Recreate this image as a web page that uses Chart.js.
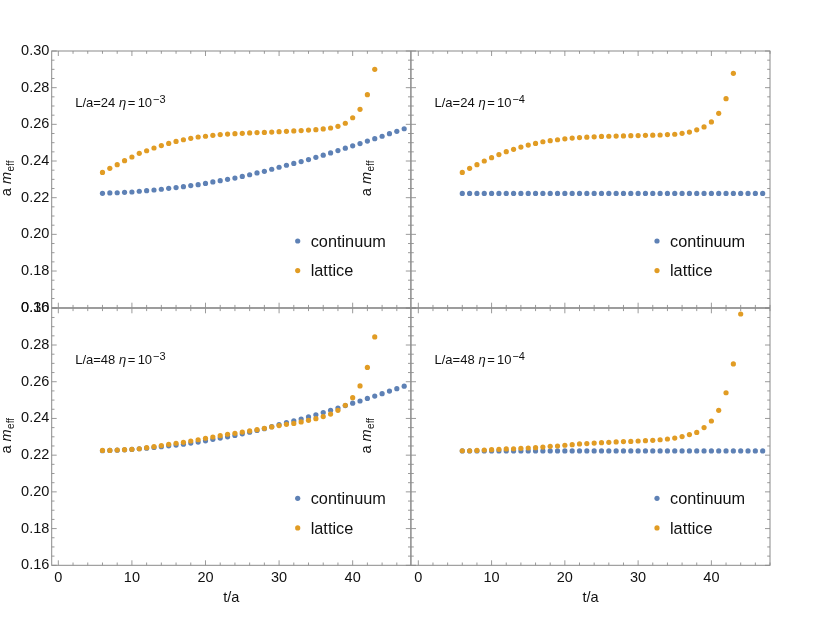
<!DOCTYPE html>
<html>
<head>
<meta charset="utf-8">
<script src="https://cdn.jsdelivr.net/npm/chart.js@4.4.1/dist/chart.umd.min.js"></script>
<style>
html,body{margin:0;padding:0;background:#fff;}
#wrap{position:relative;width:822px;height:617px;background:#fff;}
canvas{position:absolute;left:0;top:0;}
</style>
</head>
<body>
<div id="wrap">
<canvas id="cTL" width="822" height="617"></canvas>
<canvas id="cTR" width="822" height="617"></canvas>
<canvas id="cBL" width="822" height="617"></canvas>
<canvas id="cBR" width="822" height="617"></canvas>
</div>
<script>
// ---------------- data ----------------
const tCont = [6,7,8,9,10,11,12,13,14,15,16,17,18,19,20,21,22,23,24,25,26,27,28,29,30,31,32,33,34,35,36,37,38,39,40,41,42,43,44,45,46,47];
const tLat43 = [6,7,8,9,10,11,12,13,14,15,16,17,18,19,20,21,22,23,24,25,26,27,28,29,30,31,32,33,34,35,36,37,38,39,40,41,42,43];
const tLat44 = [6,7,8,9,10,11,12,13,14,15,16,17,18,19,20,21,22,23,24,25,26,27,28,29,30,31,32,33,34,35,36,37,38,39,40,41,42,43,44];

// continuum, eta = 1e-3 (same for L/a=24 and L/a=48)
const contEta3 = [0.2224,0.2226,0.2227,0.2229,0.2231,0.2235,0.2238,0.2242,0.2246,0.2251,0.2255,0.2260,0.2266,0.2271,0.2278,0.2286,0.2293,0.2300,0.2307,0.2316,0.2325,0.2335,0.2344,0.2355,0.2366,0.2377,0.2387,0.2397,0.2408,0.2420,0.2432,0.2444,0.2457,0.2470,0.2483,0.2495,0.2509,0.2522,0.2535,0.2549,0.2562,0.2576];
// continuum, eta = 1e-4
const contEta4 = [0.2223,0.2223,0.2223,0.2223,0.2223,0.2223,0.2223,0.2223,0.2223,0.2223,0.2223,0.2223,0.2223,0.2223,0.2223,0.2223,0.2223,0.2223,0.2223,0.2223,0.2223,0.2223,0.2223,0.2223,0.2223,0.2223,0.2223,0.2223,0.2223,0.2223,0.2223,0.2223,0.2223,0.2223,0.2223,0.2223,0.2223,0.2223,0.2223,0.2223,0.2223,0.2223];
// lattice
const latL24Eta3 = [0.2338,0.2360,0.2380,0.2402,0.2422,0.2442,0.2456,0.2471,0.2484,0.2496,0.2507,0.2516,0.2524,0.2531,0.2535,0.2540,0.2544,0.2547,0.2549,0.2551,0.2553,0.2555,0.2556,0.2558,0.2560,0.2562,0.2564,0.2566,0.2569,0.2571,0.2575,0.2580,0.2589,0.2606,0.2636,0.2682,0.2762,0.2900];
const latL24Eta4 = [0.2338,0.2360,0.2380,0.2400,0.2418,0.2435,0.2451,0.2464,0.2476,0.2487,0.2496,0.2505,0.2511,0.2516,0.2521,0.2525,0.2528,0.2530,0.2532,0.2534,0.2535,0.2536,0.2537,0.2538,0.2539,0.2540,0.2541,0.2542,0.2544,0.2546,0.2551,0.2558,0.2570,0.2586,0.2613,0.2660,0.2740,0.2878];
const latL48Eta3 = [0.2226,0.2226,0.2228,0.2230,0.2232,0.2235,0.2241,0.2246,0.2252,0.2259,0.2265,0.2270,0.2277,0.2284,0.2292,0.2299,0.2306,0.2314,0.2319,0.2326,0.2332,0.2339,0.2346,0.2354,0.2361,0.2368,0.2373,0.2381,0.2390,0.2399,0.2410,0.2424,0.2444,0.2472,0.2513,0.2577,0.2678,0.2844];
const latL48Eta4 = [0.2224,0.2224,0.2226,0.2228,0.2230,0.2232,0.2234,0.2235,0.2237,0.2239,0.2241,0.2244,0.2248,0.2250,0.2254,0.2257,0.2261,0.2263,0.2266,0.2268,0.2270,0.2272,0.2274,0.2275,0.2277,0.2279,0.2281,0.2284,0.2288,0.2293,0.2301,0.2312,0.2324,0.2350,0.2386,0.2444,0.2540,0.2697,0.2969];

const yTickVals = [0.16,0.18,0.20,0.22,0.24,0.26,0.28,0.30];
const xTickVals = [0,10,20,30,40];
const legendLabels = ['continuum','lattice'];
const panelLabels = [
  {L:'L/a=24', e:'\u22123'},
  {L:'L/a=24', e:'\u22124'},
  {L:'L/a=48', e:'\u22123'},
  {L:'L/a=48', e:'\u22124'}
];

// ---------------- style ----------------
const FONT = '"Liberation Sans", Arial, Helvetica, sans-serif';
const BLUE = '#5E81B5';
const ORANGE = '#E19C24';
const TXT = '#111111';

function framePlugin(o) {
  return {
    id: 'frame_' + o.id,
    beforeDatasetsDraw(chart) {
      const {ctx, chartArea: a, scales: {x, y}} = chart;
      ctx.save();
      ctx.lineWidth = 1;
      ctx.strokeStyle = '#9a9a9a';
      ctx.beginPath();
      for (let v = 0; v <= x.max; v += 2) {
        const px = x.getPixelForValue(v);
        const len = (v % 10 === 0) ? 5 : 2.8;
        ctx.moveTo(px, a.bottom); ctx.lineTo(px, a.bottom - len);
        ctx.moveTo(px, a.top); ctx.lineTo(px, a.top + len);
      }
      for (let k = 0; k <= 28; k++) {
        const v = 0.16 + k * 0.005;
        const py = y.getPixelForValue(v);
        const len = (k % 4 === 0) ? 5 : 2.8;
        ctx.moveTo(a.left, py); ctx.lineTo(a.left + len, py);
        ctx.moveTo(a.right, py); ctx.lineTo(a.right - len, py);
      }
      ctx.stroke();
      ctx.strokeStyle = '#8a8a8a';
      ctx.strokeRect(a.left, a.top, a.right - a.left, a.bottom - a.top);
      ctx.restore();
    },
    afterDraw(chart) {
      const {ctx, chartArea: a} = chart;
      ctx.save();
      ctx.fillStyle = TXT;
      ctx.textBaseline = 'alphabetic';
      ctx.textAlign = 'left';
      // panel label
      const pl = panelLabels[o.idx];
      let px = a.left + 23.5, py = a.top + 56;
      ctx.font = '13px ' + FONT;
      ctx.fillText(pl.L, px, py);
      px += ctx.measureText(pl.L).width + 3.8;
      ctx.font = 'italic 13px ' + FONT;
      ctx.fillText('\u03B7', px, py);
      px += ctx.measureText('\u03B7').width + 1.5;
      ctx.font = '13px ' + FONT;
      ctx.fillText('=', px, py);
      px += ctx.measureText('=').width + 2.2;
      ctx.fillText('10', px, py);
      px += ctx.measureText('10').width + 1;
      ctx.font = '11px ' + FONT;
      ctx.fillText(pl.e, px, py - 4.5);

      // legend
      const cols = [BLUE, ORANGE];
      const lx = a.left + 246, tx = a.left + 259;
      const ly = [a.top + 190, a.top + 219.6];
      ctx.font = '16.3px ' + FONT;
      for (let i = 0; i < 2; i++) {
        ctx.fillStyle = cols[i];
        ctx.beginPath(); ctx.arc(lx, ly[i], 2.6, 0, Math.PI * 2); ctx.fill();
        ctx.fillStyle = TXT;
        ctx.fillText(legendLabels[i], tx, ly[i] + 5.7);
      }

      // y-axis title: a m_eff (rotated)
      const bx = a.left - 40.3, cy = (a.top + a.bottom) / 2 - 1;
      ctx.translate(bx, cy);
      ctx.rotate(-Math.PI / 2);
      const f1 = '14.5px ' + FONT, f2 = 'italic 14.5px ' + FONT, f3 = '10px ' + FONT;
      ctx.font = f1; const w1 = ctx.measureText('a ').width;
      ctx.font = f2; const w2 = ctx.measureText('m').width;
      ctx.font = f3; const w3 = ctx.measureText('eff').width;
      let sx = -(w1 + w2 + w3 + 0.5) / 2;
      ctx.font = f1; ctx.fillText('a ', sx, 0); sx += w1;
      ctx.font = f2; ctx.fillText('m', sx, 0); sx += w2 + 0.5;
      ctx.font = f3; ctx.fillText('eff', sx, 3);
      ctx.restore();
    }
  };
}

function makePanel(o) {
  const toPts = (ts, vs) => ts.map((t, i) => ({x: t, y: vs[i]}));
  return new Chart(document.getElementById(o.id), {
    type: 'scatter',
    data: {
      datasets: [
        {label: legendLabels[0], data: toPts(tCont, o.cont), backgroundColor: BLUE, borderWidth: 0,
         pointRadius: 2.6, pointBorderWidth: 0, pointHoverRadius: 2.6, order: 1},
        {label: legendLabels[1], data: toPts(o.tLat, o.lat), backgroundColor: ORANGE, borderWidth: 0,
         pointRadius: 2.6, pointBorderWidth: 0, pointHoverRadius: 2.6, order: 0}
      ]
    },
    options: {
      responsive: false,
      animation: false,
      events: [],
      layout: {padding: {left: o.padL, right: o.padR, top: o.padT, bottom: o.padB}},
      plugins: {legend: {display: false}, tooltip: {enabled: false}, title: {display: false}},
      scales: {
        x: {
          type: 'linear', position: 'bottom', min: o.xmin, max: o.xmax,
          display: o.showX,
          grid: {display: false, drawTicks: false},
          border: {display: false},
          ticks: {padding: 3.5, color: TXT, font: {family: FONT, size: 14.5}, autoSkip: false, maxRotation: 0, minRotation: 0,
                  callback: v => String(v)},
          title: {display: true, text: 't/a', color: TXT, font: {family: FONT, size: 14.5}, padding: {top: 0, bottom: 3.3}},
          afterBuildTicks: s => { s.ticks = xTickVals.map(v => ({value: v})); },
          afterFit: s => { s.height = o.showX ? 45 : 0; }
        },
        y: {
          type: 'linear', position: 'left', min: 0.16, max: 0.30,
          display: o.showY,
          grid: {display: false, drawTicks: false},
          border: {display: false},
          ticks: {padding: 2.4, color: TXT, font: {family: FONT, size: 14.5}, autoSkip: false,
                  callback: v => Number(v).toFixed(2)},
          afterBuildTicks: s => { s.ticks = yTickVals.map(v => ({value: v})); },
          afterFit: s => { s.width = o.showY ? 51.7 : 0; }
        }
      }
    },
    plugins: [framePlugin(o)]
  });
}

makePanel({id: 'cTL', idx: 0, cont: contEta3, tLat: tLat43, lat: latL24Eta3,
  xmin: -0.9, xmax: 47.9, showX: false, showY: true, padL: 0, padR: 411.2, padT: 51, padB: 309.3});
makePanel({id: 'cTR', idx: 1, cont: contEta4, tLat: tLat43, lat: latL24Eta4,
  xmin: -1, xmax: 48, showX: false, showY: false, padL: 411, padR: 52, padT: 51, padB: 309.3});
makePanel({id: 'cBL', idx: 2, cont: contEta3, tLat: tLat43, lat: latL48Eta3,
  xmin: -0.9, xmax: 47.9, showX: true, showY: true, padL: 0, padR: 411.2, padT: 308.3, padB: 6.7});
makePanel({id: 'cBR', idx: 3, cont: contEta4, tLat: tLat44, lat: latL48Eta4,
  xmin: -1, xmax: 48, showX: true, showY: false, padL: 411, padR: 52, padT: 308.3, padB: 6.7});
</script>
</body>
</html>
